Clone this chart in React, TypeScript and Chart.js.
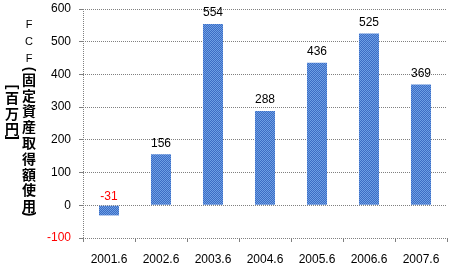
import React, { useEffect, useRef } from "react";
import { Chart, registerables } from "chart.js";

Chart.register(...registerables);

const categories = ["2001.6", "2002.6", "2003.6", "2004.6", "2005.6", "2006.6", "2007.6"];
const fcfValues = [-31, 156, 554, 288, 436, 525, 369];
const yTickMin = -100;
const yTickMax = 600;
const yTickStep = 100;
const titleMain = "FCF(固定資産取得額使用)";
const titleUnit = "[百万円]";

const FONT = "'Liberation Sans', Arial, sans-serif";
const CJK = "'Noto Sans CJK JP', 'Noto Sans CJK SC', sans-serif";

function makePattern(): CanvasPattern | string {
  const c = document.createElement("canvas");
  c.width = 2;
  c.height = 2;
  const g = c.getContext("2d");
  if (!g) return "#5283d6";
  g.fillStyle = "#3c6cc4";
  g.fillRect(0, 0, 2, 2);
  g.fillStyle = "#6d9fe4";
  g.fillRect(0, 0, 1, 1);
  g.fillRect(1, 1, 1, 1);
  const p = g.createPattern(c, "repeat");
  return p || "#5283d6";
}

function drawColumn(ctx: CanvasRenderingContext2D, text: string, cx: number, startY: number) {
  let prevAdv = 0;
  let y = startY;
  const chars = Array.from(text);
  chars.forEach((ch, i) => {
    const isBracket = "()[]".includes(ch);
    const isLatin = /[A-Za-z0-9]/.test(ch);
    const adv = isBracket ? 3 : isLatin ? 17 : 15.8;
    if (i > 0) y += (prevAdv + adv) / 2;
    prevAdv = adv;
    ctx.save();
    ctx.translate(cx, y);
    ctx.textAlign = "center";
    ctx.textBaseline = "middle";
    ctx.fillStyle = "#000";
    if (isBracket) {
      ctx.rotate(Math.PI / 2);
      ctx.font = `bold 14px ${FONT}`;
      ctx.fillText(ch, 0, 0);
    } else if (isLatin) {
      ctx.font = `11px ${FONT}`;
      ctx.fillText(ch, 0, 0);
    } else {
      ctx.font = `bold 14px ${CJK}`;
      ctx.fillText(ch, 0, 1);
    }
    ctx.restore();
  });
}

const extrasPlugin = {
  id: "extras",
  afterDatasetsDraw(chart: any) {
    const ctx: CanvasRenderingContext2D = chart.ctx;
    const area = chart.chartArea;
    // dotted left axis line
    ctx.save();
    ctx.strokeStyle = "#808080";
    ctx.lineWidth = 1;
    ctx.setLineDash([1, 1]);
    ctx.beginPath();
    const lx = Math.round(area.left) + 0.5;
    ctx.moveTo(lx, area.top);
    ctx.lineTo(lx, area.bottom + 4);
    ctx.stroke();
    ctx.restore();

    // value labels
    const meta = chart.getDatasetMeta(0);
    const yScale = chart.scales.y;
    const zeroY = yScale.getPixelForValue(0);
    ctx.save();
    ctx.font = `12px ${FONT}`;
    ctx.textAlign = "center";
    ctx.textBaseline = "middle";
    meta.data.forEach((el: any, i: number) => {
      const v = fcfValues[i];
      ctx.fillStyle = v < 0 ? "#ff0000" : "#000000";
      const y = v >= 0 ? el.y - 11 : zeroY - 9;
      ctx.fillText(String(v), el.x, y);
    });
    ctx.restore();

    // axis title columns
    drawColumn(ctx, titleMain, 29, 25);
    drawColumn(ctx, titleUnit, 12, 87);
  },
};

export default function App() {
  const ref = useRef<HTMLCanvasElement | null>(null);
  useEffect(() => {
    if (!ref.current) return;
    const chart = new Chart(ref.current, {
      type: "bar",
      data: {
        labels: categories,
        datasets: [
          {
            data: fcfValues,
            backgroundColor: makePattern() as any,
            borderWidth: 0,
            categoryPercentage: 1,
            barPercentage: 0.385,
          },
        ],
      },
      options: {
        animation: false,
        responsive: false,
        devicePixelRatio: 1,
        layout: { padding: { left: 0, top: 9, right: 6, bottom: 0 } },
        plugins: { legend: { display: false }, tooltip: { enabled: false }, title: { display: false } },
        scales: {
          x: {
            grid: {
              offset: true,
              drawOnChartArea: false,
              drawTicks: true,
              tickLength: 4,
              color: "#808080",
            },
            border: { display: false },
            ticks: { color: "#000", font: { family: FONT, size: 12 }, padding: 10, maxRotation: 0 },
            afterFit: (s: any) => {
              s.height = 31;
              s.paddingLeft = 0;
              s.paddingRight = 0;
            },
          },
          y: {
            min: yTickMin,
            max: yTickMax,
            grid: { color: "#808080", tickLength: 4, drawTicks: true },
            border: { display: false, dash: [1, 1] },
            ticks: {
              stepSize: yTickStep,
              padding: 8,
              font: { family: FONT, size: 12 },
              color: (c: any) => (c.tick && c.tick.value < 0 ? "#ff0000" : "#000000"),
            },
            afterFit: (s: any) => {
              s.width = 83;
              s.paddingTop = 0;
              s.paddingBottom = 0;
            },
          },
        },
      },
      plugins: [extrasPlugin],
    });
    return () => chart.destroy();
  }, []);
  return (
    <div style={{ position: "fixed", left: 0, top: 0, width: 453, height: 269, background: "#fff" }}>
      <canvas ref={ref} width={453} height={269} style={{ display: "block", width: 453, height: 269 }} />
    </div>
  );
}
